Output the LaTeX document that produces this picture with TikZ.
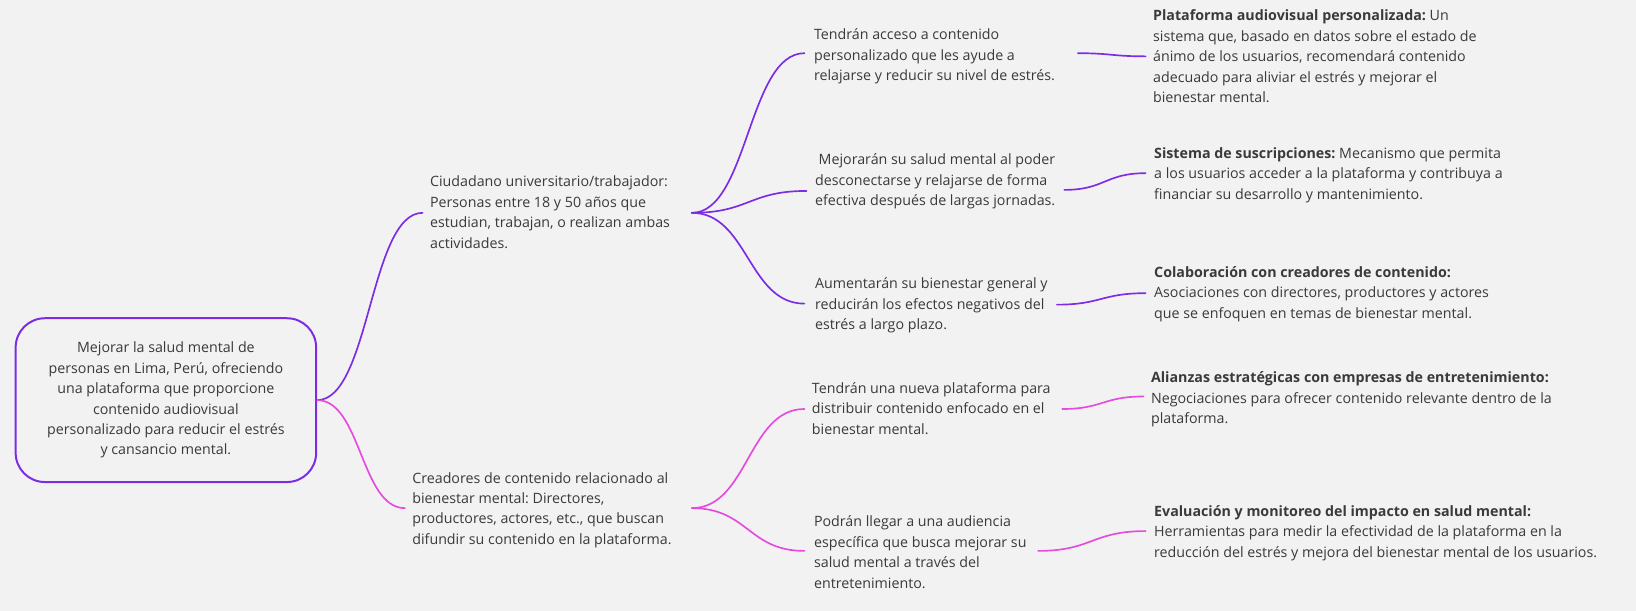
\documentclass[tikz,border=0pt]{standalone}
\usepackage{fontspec}
\setmainfont{Open Sans}
\usetikzlibrary{calc}
\frenchspacing
\definecolor{bgc}{HTML}{F2F2F2}
\definecolor{txt}{HTML}{3A3A3A}
\definecolor{purp}{HTML}{7B2CE4}
\definecolor{pinkc}{HTML}{E64BDF}
\tikzset{
  mm/.style={to path={.. controls ($(\tikztostart)!0.5!(\tikztotarget|-\tikztostart)$) and ($(\tikztotarget)!0.5!(\tikztostart|-\tikztotarget)$) .. (\tikztotarget)}},
  lbl/.style={anchor=north west, inner sep=0pt, align=left, text=txt, font=\fontsize{13.65}{19.6}\selectfont\frenchspacing},
  rootbox/.style={draw=purp, line width=1.9pt, rounded corners=28pt, minimum width=288pt, minimum height=157pt, align=center, text=txt, inner sep=0pt, font=\fontsize{13.65}{19.6}\selectfont\frenchspacing},
  pline/.style={draw=purp, line width=1.6pt, line cap=round},
  kline/.style={draw=pinkc, line width=1.6pt, line cap=round},
}
\begin{document}
\begin{tikzpicture}[x=1pt,y=-1pt]
\fill[bgc] (0,0) rectangle (1568,585.6);
\useasboundingbox (0,0) rectangle (1568,585.6);

% root
\node[rootbox] (root) at (159,383.5) {Mejorar la salud mental de\\personas en Lima, Perú, ofreciendo\\una plataforma que proporcione\\contenido audiovisual\\personalizado para reducir el estrés\\y cansancio mental.};

% level 1
\node[lbl] (ciu) at (412,165) {\strut Ciudadano universitario/trabajador:\\Personas entre 18 y 50 años que\\estudian, trabajan, o realizan ambas\\actividades.};
\node[lbl] (cre) at (395,449) {\strut Creadores de contenido relacionado al\\bienestar mental: Directores,\\productores, actores, etc., que buscan\\difundir su contenido en la plataforma.};

% level 2
\node[lbl] (a1) at (780,24) {\strut Tendrán acceso a contenido\\personalizado que les ayude a\\relajarse y reducir su nivel de estrés.};
\node[lbl] (a2) at (781,144) {\strut\hspace{3.5pt}Mejorarán su salud mental al poder\\desconectarse y relajarse de forma\\efectiva después de largas jornadas.};
\node[lbl] (a3) at (781,263) {\strut Aumentarán su bienestar general y\\reducirán los efectos negativos del\\estrés a largo plazo.};
\node[lbl] (b1) at (778,363) {\strut Tendrán una nueva plataforma para\\distribuir contenido enfocado en el\\bienestar mental.};
\node[lbl] (b2) at (780,491) {\strut Podrán llegar a una audiencia\\específica que busca mejorar su\\salud mental a través del\\entretenimiento.};

% level 3
\node[lbl] (c1) at (1105,6) {\strut\textbf{Plataforma audiovisual personalizada:} Un\\sistema que, basado en datos sobre el estado de\\ánimo de los usuarios, recomendará contenido\\adecuado para aliviar el estrés y mejorar el\\bienestar mental.};
\node[lbl] (c2) at (1106,138) {\strut\textbf{Sistema de suscripciones:} Mecanismo que permita\\a los usuarios acceder a la plataforma y contribuya a\\financiar su desarrollo y mantenimiento.};
\node[lbl] (c3) at (1106,252) {\strut\textbf{Colaboración con creadores de contenido:}\\Asociaciones con directores, productores y actores\\que se enfoquen en temas de bienestar mental.};
\node[lbl] (d1) at (1103,353) {\strut\textbf{Alianzas estratégicas con empresas de entretenimiento:}\\Negociaciones para ofrecer contenido relevante dentro de la\\plataforma.};
\node[lbl] (d2) at (1106,481) {\strut\textbf{Evaluación y monitoreo del impacto en salud mental:}\\Herramientas para medir la efectividad de la plataforma en la\\reducción del estrés y mejora del bienestar mental de los usuarios.};

% connector end points
\coordinate (ciuIn) at (405,204);
\coordinate (ciuOut) at (663,204);
\coordinate (creIn) at (388,487);
\coordinate (creOut) at (663,487);
\coordinate (a1In) at (771,51);
\coordinate (a2In) at (773,183);
\coordinate (a3In) at (771,291);
\coordinate (b1In) at (771,392);
\coordinate (b2In) at (771,528);
\coordinate (a1Out) at (1033,51);
\coordinate (a2Out) at (1020,182);
\coordinate (a3Out) at (1013,292);
\coordinate (b1Out) at (1018,392);
\coordinate (b2Out) at (995,528);
\coordinate (c1In) at (1098,54);
\coordinate (c2In) at (1098,166);
\coordinate (c3In) at (1098,281);
\coordinate (d1In) at (1096,380);
\coordinate (d2In) at (1098,509);

% connectors
\draw[pline] (root.east) to[mm] (ciuIn);
\draw[kline] (root.east) to[mm] (creIn);
\draw[pline] (ciuOut) to[mm] (a1In);
\draw[pline] (ciuOut) to[mm] (a2In);
\draw[pline] (ciuOut) to[mm] (a3In);
\draw[kline] (creOut) to[mm] (b1In);
\draw[kline] (creOut) to[mm] (b2In);
\draw[pline] (a1Out) to[mm] (c1In);
\draw[pline] (a2Out) to[mm] (c2In);
\draw[pline] (a3Out) to[mm] (c3In);
\draw[kline] (b1Out) to[mm] (d1In);
\draw[kline] (b2Out) to[mm] (d2In);
\end{tikzpicture}
\end{document}
